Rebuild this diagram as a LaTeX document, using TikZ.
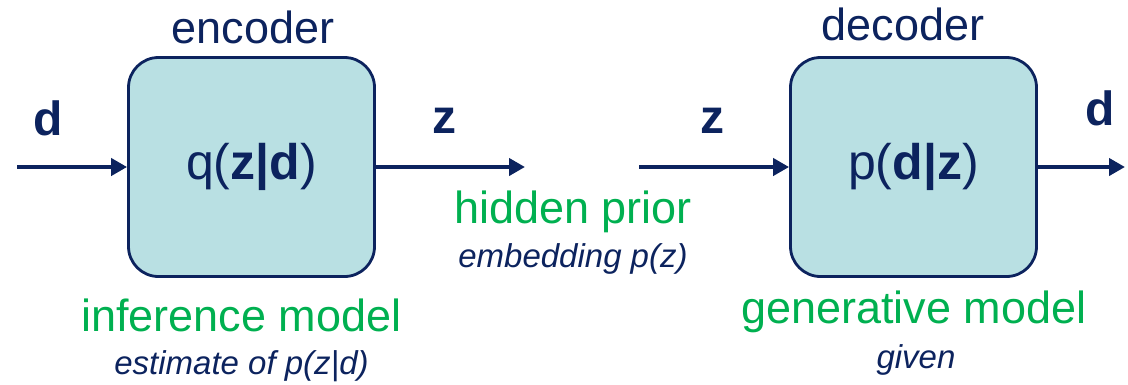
\documentclass[tikz,border=0pt]{standalone}
\usepackage{fontspec}
\setmainfont{Liberation Sans}
\usetikzlibrary{arrows.meta}
\definecolor{navy}{RGB}{12,35,94}
\definecolor{leafgreen}{RGB}{0,176,80}
\definecolor{boxfill}{RGB}{185,224,227}
\begin{document}
\begin{tikzpicture}[x=1pt,y=-1pt,
  model/.style={draw=navy, line width=2.8pt, fill=boxfill, rounded corners=30pt,
    minimum width=246pt, minimum height=219pt, inner sep=0pt, text=navy,
    font=\fontsize{50}{60}\selectfont},
  flow/.style={draw=navy, line width=4.5pt, -{Triangle[length=16pt,width=17pt]}},
  caption/.style={anchor=base, inner sep=0pt, text=navy, font=\fontsize{45}{54}\selectfont},
  varlbl/.style={anchor=base, inner sep=0pt, text=navy, font=\fontsize{48}{58}\selectfont\bfseries},
  role/.style={anchor=base, inner sep=0pt, text=leafgreen, font=\fontsize{45}{54}\selectfont},
  note/.style={anchor=base, inner sep=0pt, text=navy, font=\fontsize{33}{40}\selectfont\itshape}]
  \useasboundingbox (0,0) rectangle (1128,384);

  % the two model boxes
  \node[model] (enc) at (251.5,167) {q(\textbf{z|d})};
  \node[model] (dec) at (913.5,167) {p(\textbf{d|z})};

  % free ends of the connectors
  \coordinate (din)  at (17,167);
  \coordinate (zout) at (525,167);
  \coordinate (zin)  at (639,167);
  \coordinate (dout) at (1125,167);

  \draw[flow] (din) -- (enc.west);
  \draw[flow] (enc.east) -- (zout);
  \draw[flow] (zin) -- (dec.west);
  \draw[flow] (dec.east) -- (dout);

  % titles above the boxes
  \node[caption] (enct) at (253,43) {encoder};
  \node[caption] (dect) at (903,40) {decoder};

  % variable labels on the arrows
  \node[varlbl] (dl) at (48.5,135) {d};
  \node[varlbl] (zl) at (444,133) {z};
  \node[varlbl] (zr) at (712,133) {z};
  \node[varlbl] (dr) at (1100,125) {d};

  % roles of the parts
  \node[role] (hp)  at (573,223) {hidden prior};
  \node[note] (emb) at (573,267) {embedding p(z)};
  \node[role] (inf) at (241.5,331) {inference model};
  \node[note] (est) at (241.5,374) {estimate of p(z|d)};
  \node[role] (gen) at (914,323) {generative model};
  \node[note] (giv) at (916,368) {given};
\end{tikzpicture}
\end{document}
